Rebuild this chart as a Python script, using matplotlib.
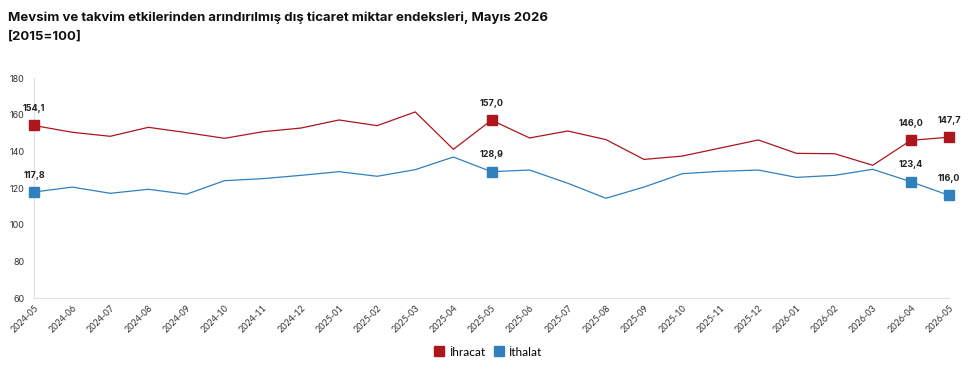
import matplotlib.pyplot as plt
import numpy as np

months = ['2024-05', '2024-06', '2024-07', '2024-08', '2024-09', '2024-10', '2024-11',
          '2024-12', '2025-01', '2025-02', '2025-03', '2025-04', '2025-05', '2025-06',
          '2025-07', '2025-08', '2025-09', '2025-10', '2025-11', '2025-12', '2026-01',
          '2026-02', '2026-03', '2026-04', '2026-05']
ihracat = [154.1, 150.4, 148.2, 153.1, 150.2, 147.1, 150.7, 152.7, 157.1, 154.0, 161.5,
           141.1, 157.0, 147.3, 151.1, 146.4, 135.6, 137.4, 141.8, 146.2, 138.9, 138.7,
           132.4, 146.0, 147.7]
ithalat = [117.8, 120.5, 117.1, 119.3, 116.6, 124.0, 125.1, 126.9, 128.9, 126.4, 130.0,
           136.9, 128.9, 129.8, 122.6, 114.4, 120.5, 127.8, 129.1, 129.8, 125.8, 126.9,
           130.2, 123.4, 116.0]
labeled = [0, 12, 23, 24]
yticks = [60, 80, 100, 120, 140, 160, 180]

RED = '#AC161C'
BLUE = '#3180BE'

plt.rcParams['font.family'] = ['Inter', 'DejaVu Sans']

fig = plt.figure(figsize=(9.77, 3.87), dpi=100)
ax = fig.add_axes([34 / 977, 1 - 298 / 387, 915 / 977, 220 / 387])

x = np.arange(len(months))
ax.plot(x, ihracat, color=RED, linewidth=0.9)
ax.plot(x, ithalat, color=BLUE, linewidth=0.9)

for i in labeled:
    ax.plot(x[i], ihracat[i], 's', color=RED, markersize=7.5, clip_on=False, zorder=3)
    ax.plot(x[i], ithalat[i], 's', color=BLUE, markersize=7.5, clip_on=False, zorder=3)
    ax.annotate(f'{ihracat[i]:.1f}'.replace('.', ','), (x[i], ihracat[i]), xytext=(0, 9),
                textcoords='offset points', ha='center', va='bottom', fontsize=6.5,
                fontweight='bold', color='#222222', annotation_clip=False)
    ax.annotate(f'{ithalat[i]:.1f}'.replace('.', ','), (x[i], ithalat[i]), xytext=(0, 9),
                textcoords='offset points', ha='center', va='bottom', fontsize=6.5,
                fontweight='bold', color='#222222', annotation_clip=False)

ax.set_xlim(0, len(months) - 1)
ax.set_ylim(60, 180)
ax.set_yticks(yticks)
ax.set_yticklabels([str(v) for v in yticks], fontsize=6.5, color='#333333')
ax.set_xticks(x)
ax.set_xticklabels(months, rotation=45, ha='right', rotation_mode='anchor',
                   fontsize=6.5, color='#333333', family=['Lato', 'DejaVu Sans'])
ax.tick_params(axis='both', length=0, pad=4)
ax.tick_params(axis='y', pad=7)

for s in ['top', 'right']:
    ax.spines[s].set_visible(False)
ax.spines['left'].set_color('#D8E0EA')
ax.spines['bottom'].set_color('#E0E0E0')
ax.spines['left'].set_linewidth(0.8)
ax.spines['bottom'].set_linewidth(0.8)

fig.text(8 / 977, 1 - 18 / 387,
         'Mevsim ve takvim etkilerinden arındırılmış dış ticaret miktar endeksleri, Mayıs 2026',
         fontsize=9.5, fontweight='bold', color='#111111', va='center')
fig.text(8 / 977, 1 - 37 / 387, '[2015=100]', fontsize=9.5, fontweight='bold',
         color='#111111', va='center')

h1 = plt.Line2D([], [], marker='s', color=RED, linestyle='none', markersize=7.5)
h2 = plt.Line2D([], [], marker='s', color=BLUE, linestyle='none', markersize=7.5)
fig.legend([h1, h2], ['İhracat', 'İthalat'], loc='center', bbox_to_anchor=(487 / 977, 1 - 352 / 387),
           ncol=2, frameon=False, handletextpad=0.2, columnspacing=0.6, handlelength=1.2,
           prop={'family': ['Lato', 'DejaVu Sans'], 'size': 8.5})

fig.savefig('out.png', dpi=100)
